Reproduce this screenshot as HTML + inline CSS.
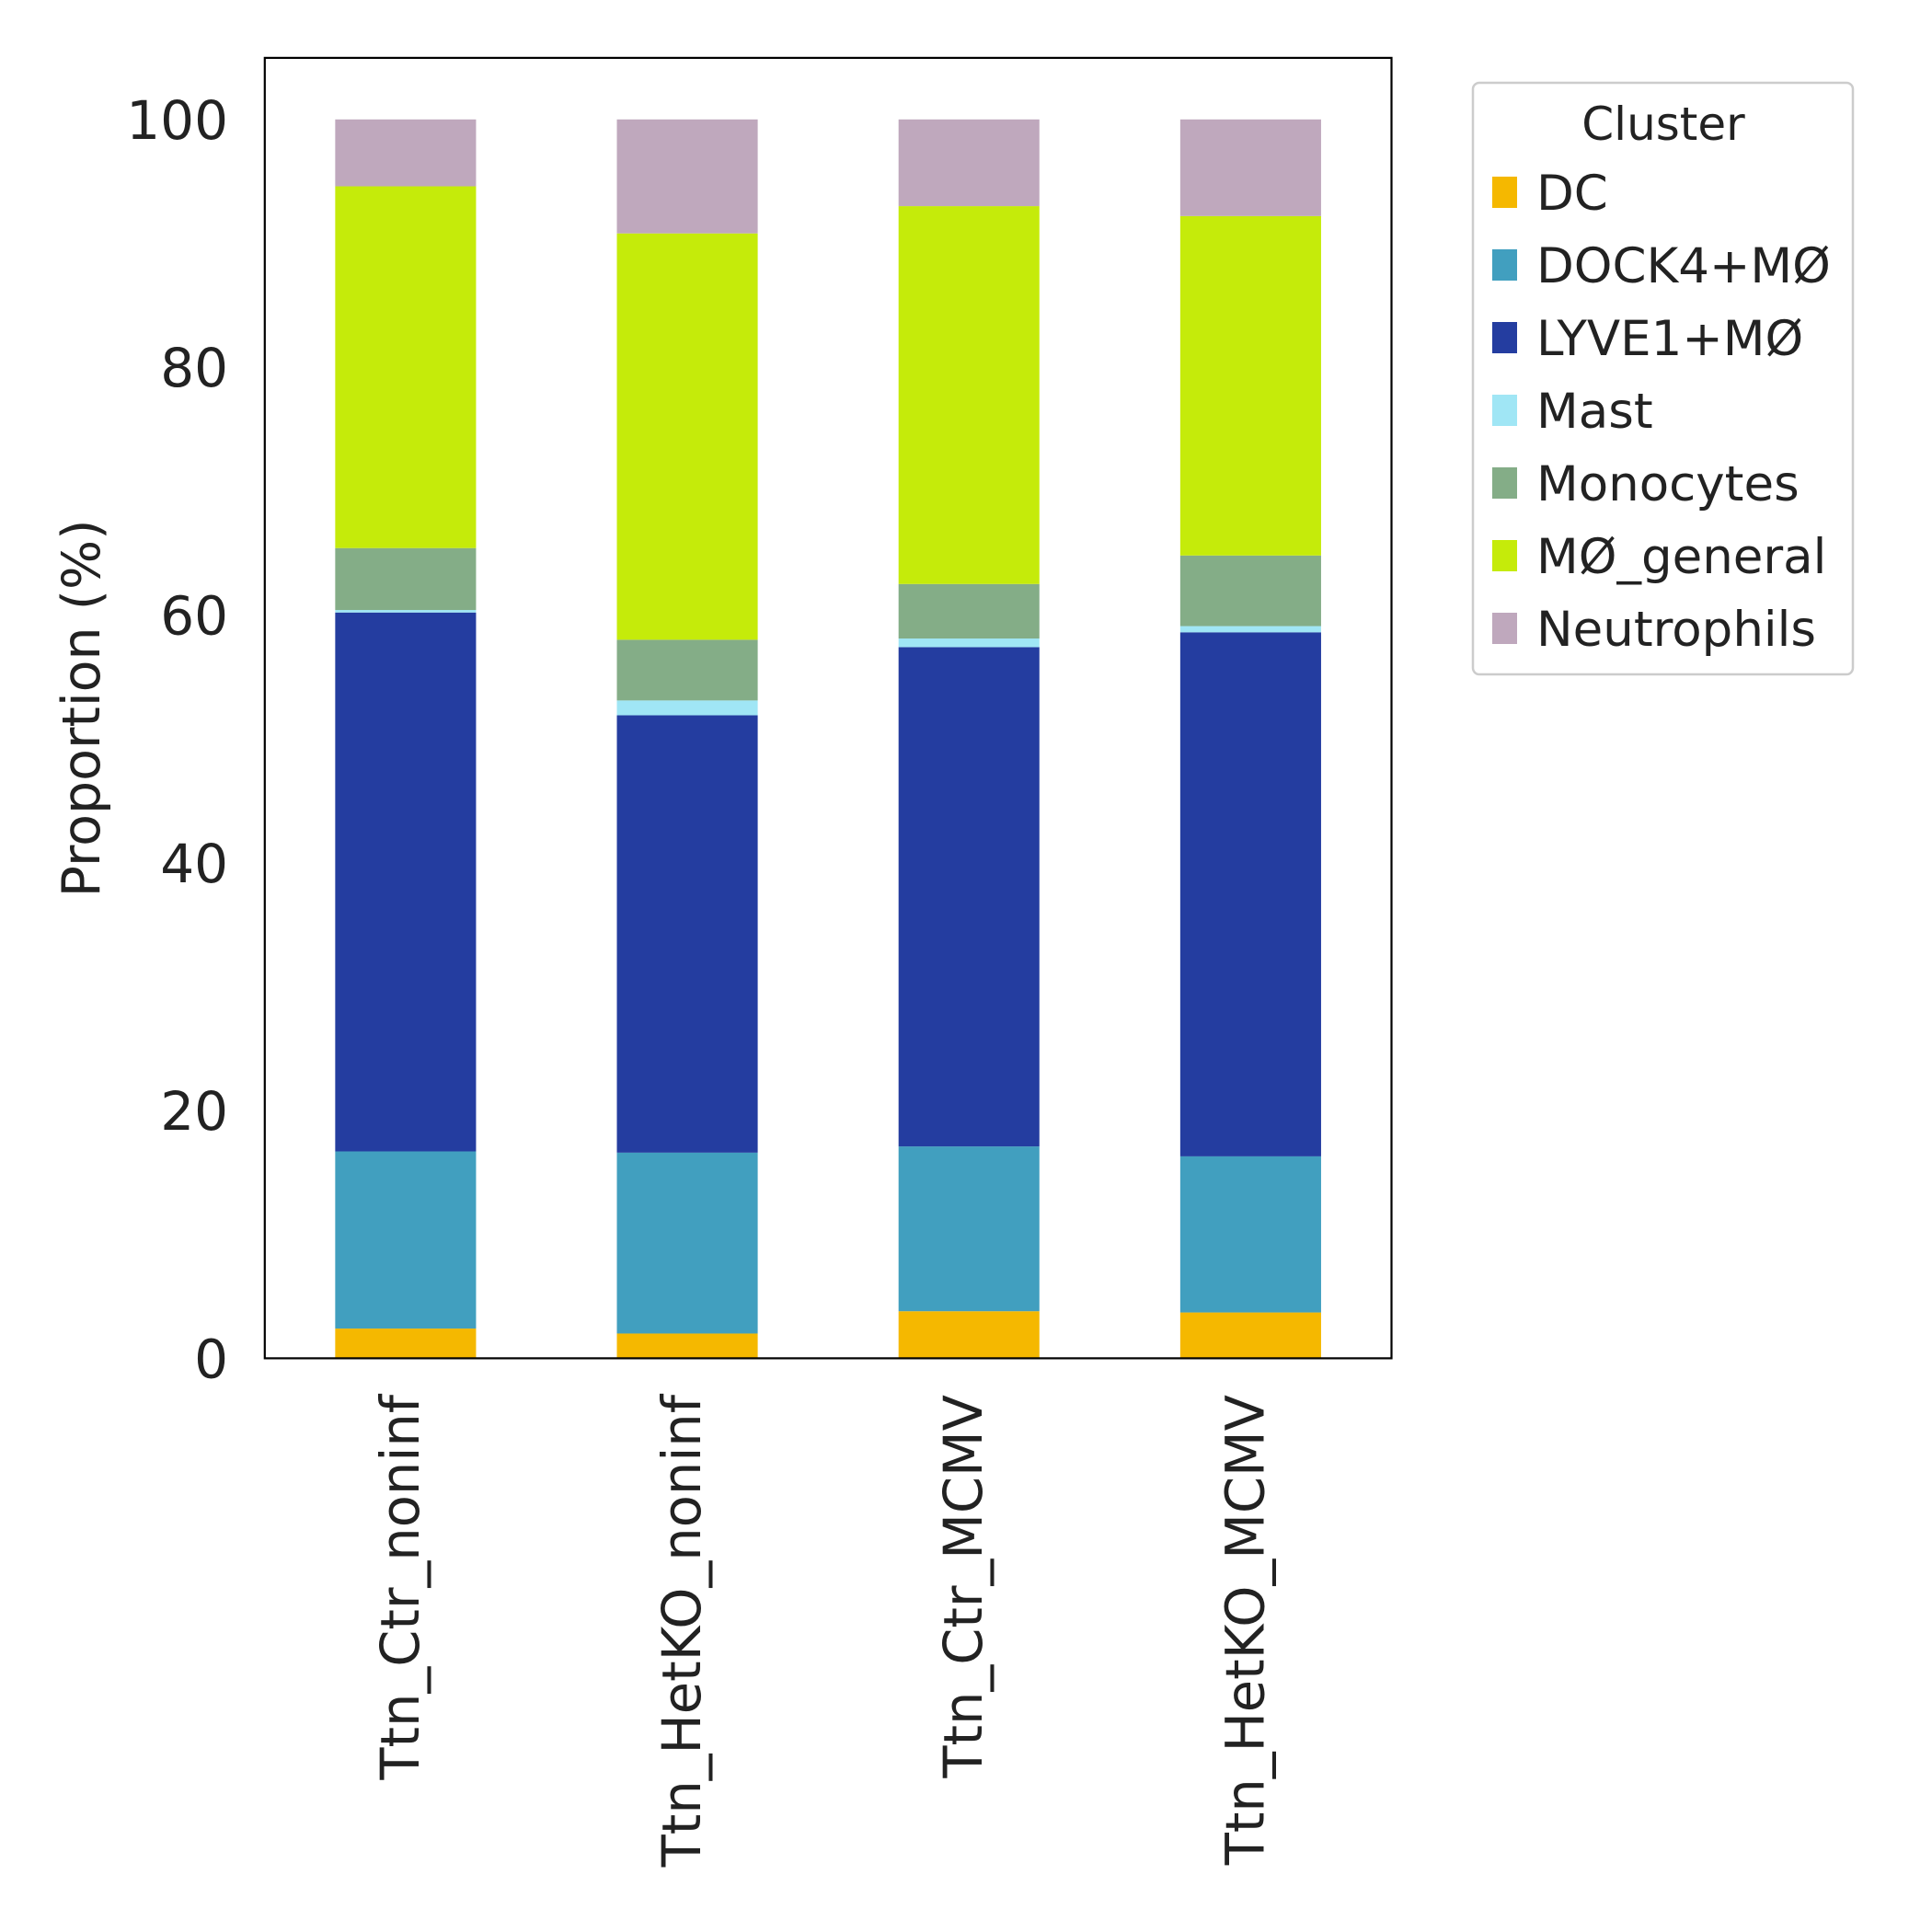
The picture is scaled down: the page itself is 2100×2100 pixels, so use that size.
<!DOCTYPE html>
<html><head><meta charset="utf-8"><style>
html,body{margin:0;padding:0;background:#fff;}
svg{display:block;font-family:"DejaVu Sans","Liberation Sans",sans-serif;}
</style></head><body>
<svg id="chart" width="2100" height="2100" viewBox="0 0 2100 2100" xmlns="http://www.w3.org/2000/svg">
<rect width="2100" height="2100" fill="#fff"/>
<g id="bars"></g>
<g id="yticks"></g>
<g id="xticks"></g>
<rect x="287.8" y="62.9" width="1224.7" height="1413.5" fill="none" stroke="#000" stroke-width="2.2"/>
<text x="0" y="0" transform="translate(108,770) rotate(-90)" text-anchor="middle" font-size="57" fill="#222">Proportion (%)</text>
<g id="legend"></g>
</svg>
<script>
const categories = ["Ttn_Ctr_noninf","Ttn_HetKO_noninf","Ttn_Ctr_MCMV","Ttn_HetKO_MCMV"];
const clusters = ["DC","DOCK4+MØ","LYVE1+MØ","Mast","Monocytes","MØ_general","Neutrophils"];
const colors = ["#f5b800","#419fbf","#243da0","#a0e6f5","#84ad87","#c5eb0a","#bfa8bd"];
const dcVals = [2.4,2.0,3.8,3.7];
const dock4Vals = [14.3,14.6,13.3,12.6];
const lyve1Vals = [43.5,35.3,40.3,42.3];
const mastVals = [0.2,1.2,0.7,0.5];
const monoVals = [5.0,4.9,4.4,5.7];
const mgenVals = [29.2,32.8,30.5,27.4];
const neutVals = [5.4,9.2,7.0,7.8];
const yTicks = [0,20,40,60,80,100];

const series = [dcVals,dock4Vals,lyve1Vals,mastVals,monoVals,mgenVals,neutVals];
const NS="http://www.w3.org/2000/svg";
const axL=287.8, axR=1512.5, y0=1476.4, y100=129.8;
const yScale = v => y0 + (y100-y0)*v/100;
const band = (axR-axL)/categories.length;
const xScale = i => axL + band*(i+0.5);
const barW = band*0.5;
function mk(tag, attrs, parent){const e=document.createElementNS(NS,tag);for(const k in attrs)e.setAttribute(k,attrs[k]);parent.appendChild(e);return e;}
const gb=document.getElementById('bars');
categories.forEach((c,i)=>{
  let cum=0;
  series.forEach((s,j)=>{
    const v=s[i];
    const r=mk('rect',{x:xScale(i)-barW/2,y:yScale(cum+v),width:barW,height:yScale(cum)-yScale(cum+v),fill:colors[j]},gb);
    
    
    cum+=v;
  });
});
const gy=document.getElementById('yticks');
yTicks.forEach(t=>{
  const e=mk('text',{x:248,y:yScale(t)+21,'text-anchor':'end','font-size':'58',fill:'#222'},gy);
  e.textContent=t;
  
  
});
const gx=document.getElementById('xticks');
categories.forEach((c,i)=>{
  const e=mk('text',{x:0,y:0,transform:`translate(${xScale(i)+14},1516) rotate(-90)`,'text-anchor':'end','font-size':'57.5',fill:'#222'},gx);
  e.textContent=c;
  
  
});
const gl=document.getElementById('legend');
const box=mk('rect',{x:1601,y:90,width:413,height:643,rx:7,fill:'#fff',stroke:'#ccc','stroke-width':2.5},gl);


const lt=mk('text',{x:1808,y:152,'text-anchor':'middle','font-size':'50',fill:'#222'},gl);
lt.textContent='Cluster';


clusters.forEach((c,j)=>{
  const yy=209+j*79;
  const g=mk('g',{},gl);
  
  
  mk('rect',{x:1622,y:yy-17,width:27,height:34,fill:colors[j]},g);
  const t=mk('text',{x:1670,y:yy+19,'font-size':'53',fill:'#222'},g);
  t.textContent=c;
});
</script>
</body></html>
